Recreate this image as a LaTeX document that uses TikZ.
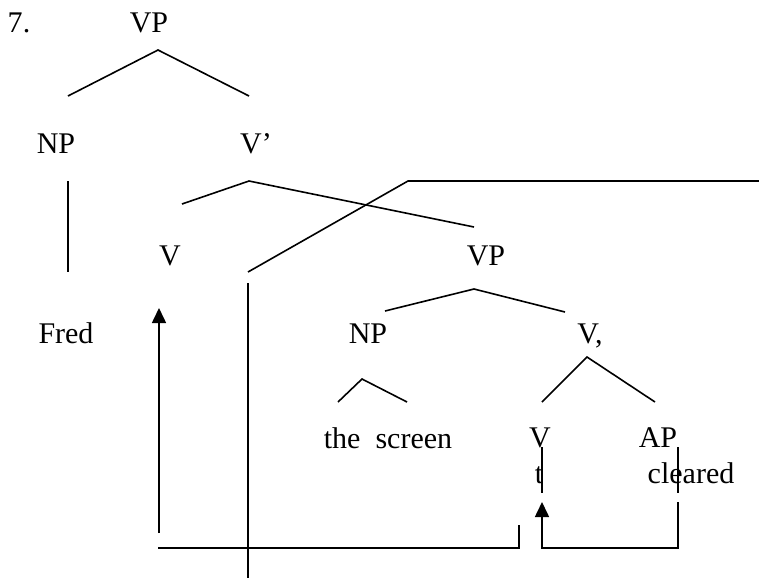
\documentclass[tikz,border=0pt]{standalone}
\usepackage{fontspec}
\setmainfont{Liberation Serif}
\usetikzlibrary{arrows.meta}
\tikzset{
  catnode/.style={anchor=base,inner sep=0pt,font=\fontsize{30}{36}\selectfont},
  branch/.style={line width=1.6pt},
  movearrow/.style={line width=1.6pt,-{Triangle[length=15pt,width=14pt]}}
}
\begin{document}
\begin{tikzpicture}[x=1pt,y=-1pt]
\useasboundingbox (0,0) rectangle (759,587);

% Category labels.
\node[catnode] (num) at (19,32) {7.};
\node[catnode] (vp) at (149,32) {VP};
\node[catnode] (np) at (56,153) {NP};
\node[catnode] (vbar) at (256,153) {V’};
\node[catnode] (v) at (170,265) {V};
\node[catnode] (vpb) at (486,265) {VP};
\node[catnode] (fred) at (66,343) {Fred};
\node[catnode] (npb) at (368,343) {NP};
\node[catnode] (vbarb) at (590,343) {V,};
\node[catnode] (screen) at (388,448) {the~~screen};
\node[catnode] (vlow) at (540,447) {V};
\node[catnode] (ap) at (658,447) {AP};
\node[catnode] (trace) at (539,483) {t};
\node[catnode] (cleared) at (691,483) {cleared};

% Branch points.
\coordinate (vp-top) at (158,50);
\coordinate (vp-l) at (68,96);
\coordinate (vp-r) at (249,96);
\coordinate (np-top) at (68,181);
\coordinate (np-bot) at (68,272);
\coordinate (vbar-top) at (249,181);
\coordinate (vbar-l) at (182,204);
\coordinate (vbar-r) at (474,227);
\coordinate (vpb-top) at (474,289);
\coordinate (vpb-l) at (385,311);
\coordinate (vpb-r) at (565,312);
\coordinate (npb-top) at (362,379);
\coordinate (npb-l) at (338,402);
\coordinate (npb-r) at (407,402);
\coordinate (vbarb-top) at (587,357);
\coordinate (vbarb-l) at (542,402);
\coordinate (vbarb-r) at (655,402);

% Crossing lines.
\coordinate (cross-a) at (248,272);
\coordinate (cross-b) at (408,181);
\coordinate (cross-c) at (759,181);
\coordinate (pole-top) at (248,283);
\coordinate (pole-bot) at (248,578);
\coordinate (t-top) at (542,447);
\coordinate (t-bot) at (542,493);
\coordinate (cl-top) at (678,447);
\coordinate (cl-bot) at (678,493);

% Movement paths.
\coordinate (ap-start) at (678,502);
\coordinate (ap-corner) at (678,548);
\coordinate (t-corner) at (542,548);
\coordinate (t-tip) at (542,502);
\coordinate (v-start) at (159,533);
\coordinate (v-tip) at (159,308);
\coordinate (base-l) at (158,548);
\coordinate (base-r) at (519,548);
\coordinate (base-up) at (519,525);

\draw[branch] (vp-l) -- (vp-top) -- (vp-r);
\draw[branch] (np-top) -- (np-bot);
\draw[branch] (vbar-l) -- (vbar-top) -- (vbar-r);
\draw[branch] (vpb-l) -- (vpb-top) -- (vpb-r);
\draw[branch] (npb-l) -- (npb-top) -- (npb-r);
\draw[branch] (vbarb-l) -- (vbarb-top) -- (vbarb-r);
\draw[branch] (cross-a) -- (cross-b) -- (cross-c);
\draw[branch] (pole-top) -- (pole-bot);
\draw[branch] (t-top) -- (t-bot);
\draw[branch] (cl-top) -- (cl-bot);

\draw[movearrow] (ap-start) -- (ap-corner) -- (t-corner) -- (t-tip);
\draw[movearrow] (v-start) -- (v-tip);
\draw[branch] (base-l) -- (base-r) -- (base-up);
\end{tikzpicture}
\end{document}
